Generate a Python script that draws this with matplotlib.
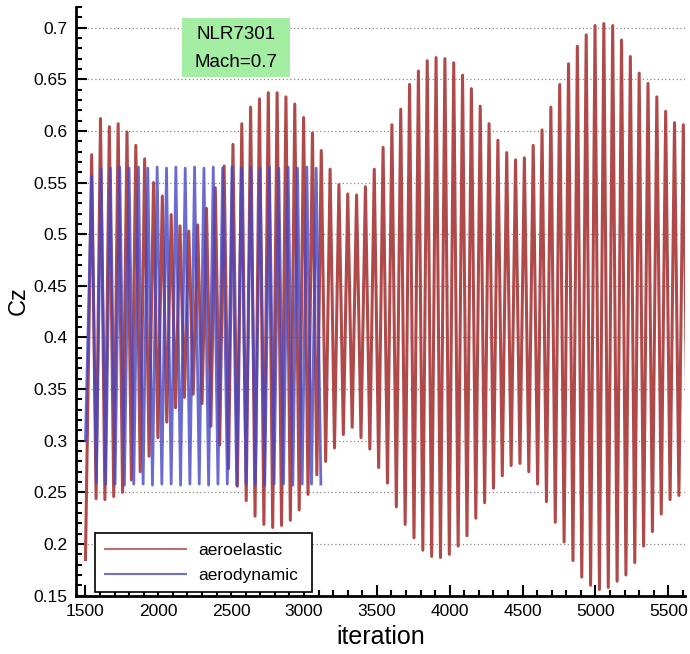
import numpy as np
import matplotlib.pyplot as plt
from matplotlib.lines import Line2D
from matplotlib.ticker import MultipleLocator

plt.rcParams['font.family'] = ['Liberation Sans', 'DejaVu Sans']

# aeroelastic response: start value, then one peak and one trough per cycle
elastic_start = (1500, 0.185)
elastic_first_peak = 1542.6   # iteration of first peak
elastic_period = 60.6         # iterations per cycle
elastic_peaks = [0.577, 0.612, 0.604, 0.607, 0.599, 0.586, 0.573, 0.550, 0.537, 0.519,
                 0.508, 0.503, 0.509, 0.525, 0.545, 0.566, 0.587, 0.607, 0.623, 0.631,
                 0.637, 0.637, 0.633, 0.626, 0.613, 0.598, 0.581, 0.563, 0.548, 0.539,
                 0.538, 0.546, 0.563, 0.584, 0.606, 0.621, 0.645, 0.658, 0.668, 0.671,
                 0.670, 0.666, 0.654, 0.641, 0.624, 0.607, 0.591, 0.579, 0.572, 0.574,
                 0.586, 0.601, 0.623, 0.645, 0.665, 0.682, 0.693, 0.702, 0.704, 0.702,
                 0.688, 0.672, 0.656, 0.646, 0.633, 0.619, 0.608, 0.606]
elastic_troughs = [0.244, 0.243, 0.246, 0.250, 0.262, 0.270, 0.285, 0.303, 0.318, 0.332,
                   0.342, 0.345, 0.336, 0.314, 0.296, 0.273, 0.256, 0.242, 0.227, 0.219,
                   0.216, 0.218, 0.223, 0.233, 0.248, 0.267, 0.280, 0.293, 0.306, 0.313,
                   0.303, 0.292, 0.274, 0.259, 0.236, 0.219, 0.206, 0.194, 0.188, 0.187,
                   0.190, 0.198, 0.208, 0.225, 0.240, 0.254, 0.266, 0.276, 0.278, 0.270,
                   0.258, 0.241, 0.221, 0.202, 0.184, 0.168, 0.160, 0.156, 0.158, 0.164,
                   0.170, 0.182, 0.198, 0.212, 0.229, 0.243, 0.247, 0.250]

# rigid (aerodynamic) response
rigid_start = (1500, 0.300)
rigid_first_peak = 1542.6
rigid_period = 64.2
rigid_peaks = [0.556, 0.563, 0.564, 0.565, 0.564, 0.565, 0.564, 0.565, 0.564, 0.565,
               0.564, 0.565, 0.564, 0.565, 0.564, 0.565, 0.564, 0.565, 0.564, 0.565,
               0.564, 0.565, 0.564, 0.565, 0.564]
rigid_troughs = [0.259, 0.258, 0.258, 0.257, 0.258, 0.258, 0.257, 0.258, 0.258, 0.257,
                 0.258, 0.258, 0.257, 0.258, 0.258, 0.257, 0.258, 0.258, 0.257, 0.258,
                 0.258, 0.257, 0.258, 0.258, 0.258]

y_ticks = [0.15, 0.2, 0.25, 0.3, 0.35, 0.4, 0.45, 0.5, 0.55, 0.6, 0.65, 0.7]
y_labels = ['0.15', '0.2', '0.25', '0.3', '0.35', '0.4', '0.45', '0.5', '0.55', '0.6', '0.65', '0.7']
x_ticks = [1500, 2000, 2500, 3000, 3500, 4000, 4500, 5000, 5500]


def zigzag(start, first_peak, period, peaks, troughs):
    # alternate peak / trough samples, half a period apart
    n = len(peaks)
    t_peak = first_peak + period * np.arange(n)
    t = np.empty(2 * n)
    v = np.empty(2 * n)
    t[0::2] = t_peak
    t[1::2] = t_peak + period / 2
    v[0::2] = peaks
    v[1::2] = troughs
    return np.r_[start[0], t], np.r_[start[1], v]


fig = plt.figure(figsize=(6.9, 6.54), dpi=100)
ax = fig.add_axes([0.1097, 0.0892, 0.883, 0.9001])

for y in y_ticks:
    ax.axhline(y, color='#8a8a8a', lw=0.9, ls=(0, (1, 2)), zorder=0)

tx, vx = zigzag(elastic_start, elastic_first_peak, elastic_period, elastic_peaks, elastic_troughs)
ax.plot(tx, vx, color='#b04a4a', lw=2.2, zorder=2)
tr, vr = zigzag(rigid_start, rigid_first_peak, rigid_period, rigid_peaks, rigid_troughs)
ax.plot(tr, vr, color='#4646c4', lw=2.0, alpha=0.8, zorder=3)

ax.set_xlim(1433, 5614)
ax.set_ylim(0.15, 0.72)
ax.set_xticks(x_ticks)
ax.set_yticks(y_ticks)
ax.set_yticklabels(y_labels)
ax.xaxis.set_minor_locator(MultipleLocator(100))
ax.yaxis.set_minor_locator(MultipleLocator(0.01))
ax.tick_params(which='both', direction='in', width=1.5, labelsize=12.5, color='black')
ax.tick_params(which='major', length=8)
ax.tick_params(which='minor', length=4.5)
ax.tick_params(axis='x', pad=6)
ax.tick_params(axis='y', pad=6)
ax.tick_params(top=False, right=False, which='both')

for side in ['top', 'right']:
    ax.spines[side].set_visible(False)
for side in ['left', 'bottom']:
    ax.spines[side].set_linewidth(2)

ax.set_ylabel('Cz', fontsize=17)
ax.yaxis.set_label_coords(-0.075, 0.502)
ax.set_xlabel('iteration', fontsize=18, labelpad=4)

handles = [Line2D([], [], color='#b87070', lw=1.5),
           Line2D([], [], color='#7070c0', lw=1.5)]
leg = ax.legend(handles, ['aeroelastic', 'aerodynamic'], loc='lower left',
                bbox_to_anchor=(0.032, 0.006, 0.356, 0.105), mode='expand',
                fontsize=12.5, handlelength=4.7, handletextpad=0.7,
                borderaxespad=0, borderpad=0.55, fancybox=False, framealpha=1,
                edgecolor='black', labelspacing=0.55)
leg.get_frame().set_linewidth(1.2)

# annotation box
box = plt.Rectangle((0.264, 0.882), 0.157, 0.09, transform=fig.transFigure,
                    facecolor='#a4eea4', edgecolor='none', zorder=5)
fig.patches.append(box)
fig.text(0.342, 0.947, 'NLR7301', ha='center', va='center', fontsize=13.5, zorder=6)
fig.text(0.342, 0.905, 'Mach=0.7', ha='center', va='center', fontsize=13.5, zorder=6)

fig.savefig('out.png', dpi=100)
